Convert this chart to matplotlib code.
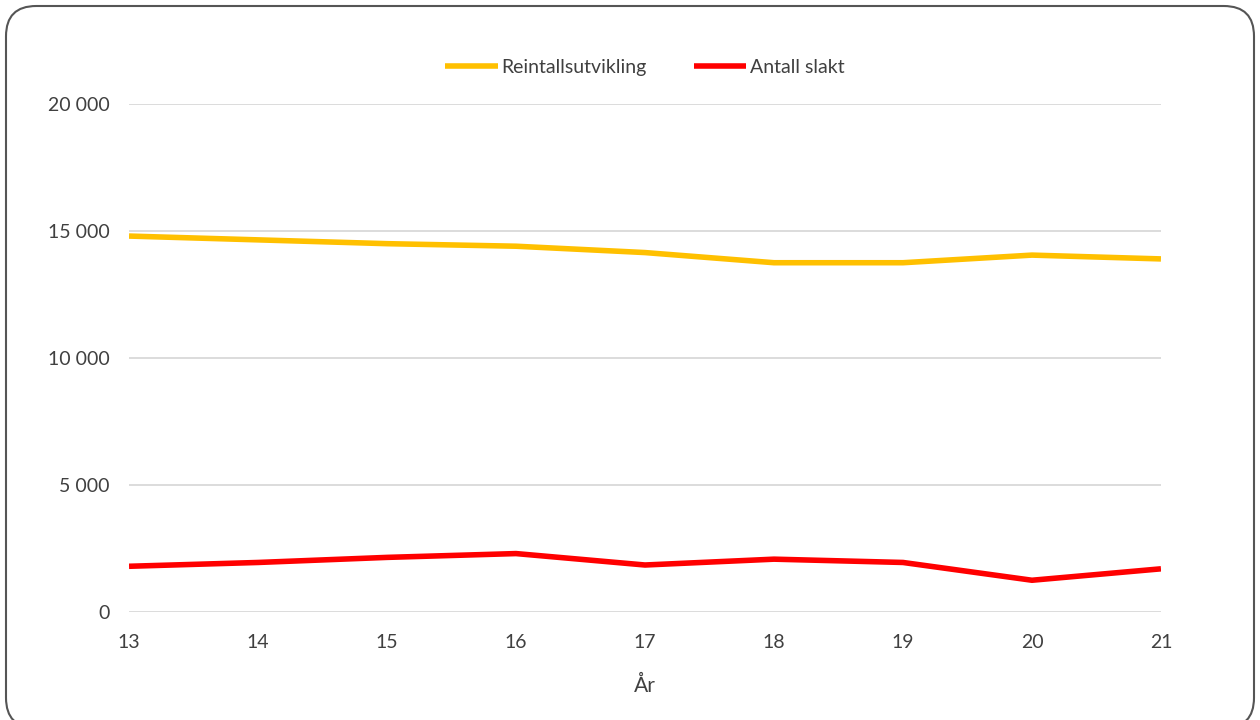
import matplotlib.pyplot as plt
from matplotlib.patches import FancyBboxPatch
from matplotlib.ticker import FuncFormatter

plt.rcParams["font.family"] = ["Lato", "DejaVu Sans"]

years = [13, 14, 15, 16, 17, 18, 19, 20, 21]
reintall = [14800, 14650, 14500, 14400, 14150, 13750, 13750, 14050, 13900]
slakt = [1800, 1950, 2150, 2300, 1850, 2080, 1950, 1250, 1700]
y_ticks = [0, 5000, 10000, 15000, 20000]

fig = plt.figure(figsize=(12.6, 7.2), dpi=100)
ax = fig.add_axes([0.1024, 0.15, 0.819, 0.7056])

ax.plot(years, reintall, color="#FFC000", linewidth=4,
        solid_capstyle="butt", label="Reintallsutvikling")
ax.plot(years, slakt, color="#FF0000", linewidth=4,
        solid_capstyle="butt", label="Antall slakt")

ax.set_xlim(13, 21)
ax.set_ylim(0, 20000)
ax.set_xticks(years)
ax.set_yticks(y_ticks)
ax.yaxis.set_major_formatter(FuncFormatter(lambda v, p: f"{int(v):,}".replace(",", " ")))
ax.grid(axis="y", color="#D9D9D9", linewidth=1.3)
ax.set_axisbelow(True)
for s in ax.spines.values():
    s.set_visible(False)
ax.tick_params(axis="both", length=0, labelsize=14, colors="#404040")
ax.tick_params(axis="x", pad=16)
ax.tick_params(axis="y", pad=14)
ax.set_xlabel("År", fontsize=15, color="#404040", labelpad=18)

ax.legend(loc="lower center", bbox_to_anchor=(0.5, 1.021), ncol=2, frameon=False,
          fontsize=14, handlelength=2.7, handletextpad=0.2, columnspacing=2.4,
          labelcolor="#404040")

box = FancyBboxPatch((6 / 1260, -8 / 720), 1248 / 1260, 722 / 720,
                     boxstyle="round,pad=0,rounding_size=0.024",
                     transform=fig.transFigure, fill=False,
                     edgecolor="#555555", linewidth=1.5,
                     mutation_aspect=1260 / 720)
fig.patches.append(box)

fig.savefig("out.png", dpi=100)
